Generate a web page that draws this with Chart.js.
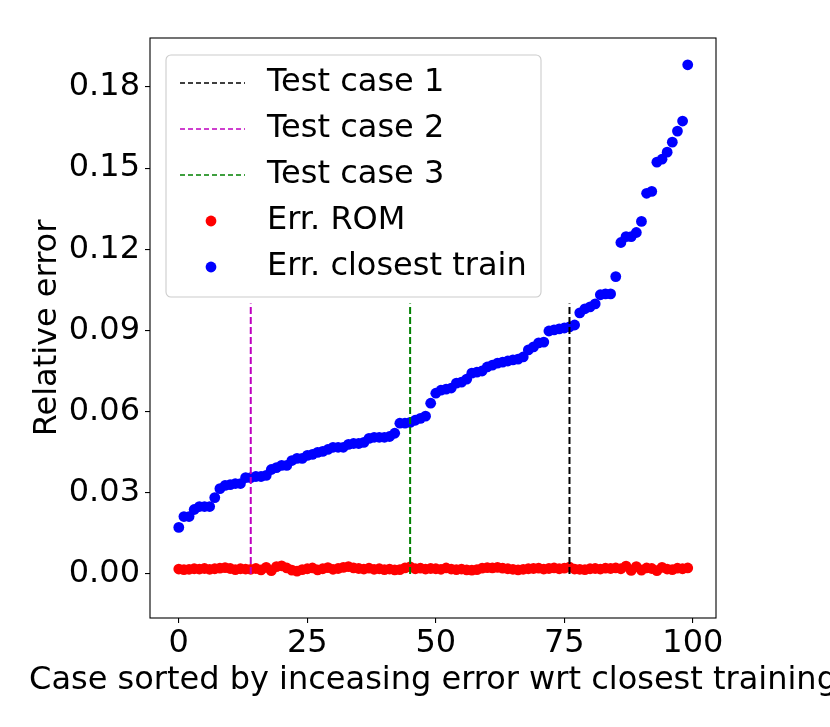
<!DOCTYPE html>
<html>
<head>
<meta charset="utf-8">
<script src="https://cdn.jsdelivr.net/npm/chart.js@4.4.1/dist/chart.umd.min.js"></script>
<style>
  html, body { margin: 0; padding: 0; background: #fff; }
  canvas { display: block; }
</style>
</head>
<body>
<canvas id="c" width="830" height="727"></canvas>
<script>
  "use strict";

  const FONT = "'DejaVu Sans', sans-serif";
  const FS = 32;

  const xTicks = [0, 25, 50, 75, 100];
  const yTicks = [0, 0.03, 0.06, 0.09, 0.12, 0.15, 0.18];

  // relative error of the closest training case, sorted (index = case)
  const errClosest = [
    0.0172, 0.0212, 0.0212, 0.0238, 0.0249, 0.0249, 0.0249, 0.0282, 0.0315, 0.0327,
    0.0330, 0.0334, 0.0334, 0.0356, 0.0356, 0.0360, 0.0360, 0.0364, 0.0386, 0.0393,
    0.0401, 0.0401, 0.0419, 0.0427, 0.0427, 0.0438, 0.0442, 0.0449, 0.0453, 0.0460,
    0.0468, 0.0468, 0.0468, 0.0479, 0.0482, 0.0482, 0.0486, 0.0501, 0.0505, 0.0505,
    0.0505, 0.0508, 0.0520, 0.0557, 0.0557, 0.0560, 0.0568, 0.0575, 0.0583, 0.0631,
    0.0668, 0.0679, 0.0683, 0.0687, 0.0705, 0.0709, 0.0720, 0.0742, 0.0746, 0.0750,
    0.0765, 0.0772, 0.0779, 0.0783, 0.0787, 0.0791, 0.0794, 0.0802, 0.0828, 0.0839,
    0.0854, 0.0857, 0.0898, 0.0902, 0.0906, 0.0909, 0.0913, 0.0920, 0.0965, 0.0980,
    0.0987, 0.0998, 0.1032, 0.1035, 0.1035, 0.1099, 0.1225, 0.1247, 0.1247, 0.1262,
    0.1303, 0.1407, 0.1414, 0.1522, 0.1533, 0.1559, 0.1596, 0.1637, 0.1674, 0.1882
  ];

  // relative error of the ROM for the same cases
  const errRom = [
    0.0018, 0.0016, 0.0017, 0.0019, 0.0018, 0.0020, 0.0017, 0.0019, 0.0021, 0.0023,
    0.0020, 0.0016, 0.0019, 0.0018, 0.0017, 0.0020, 0.0015, 0.0024, 0.0012, 0.0027,
    0.0030, 0.0022, 0.0014, 0.0010, 0.0016, 0.0019, 0.0022, 0.0015, 0.0019, 0.0023,
    0.0017, 0.0020, 0.0024, 0.0027, 0.0022, 0.0020, 0.0018, 0.0021, 0.0017, 0.0019,
    0.0016, 0.0018, 0.0015, 0.0016, 0.0022, 0.0026, 0.0019, 0.0021, 0.0018, 0.0020,
    0.0019, 0.0017, 0.0022, 0.0018, 0.0016, 0.0018, 0.0015, 0.0014, 0.0016, 0.0021,
    0.0023, 0.0022, 0.0024, 0.0021, 0.0019, 0.0017, 0.0015, 0.0017, 0.0019, 0.0020,
    0.0021, 0.0018, 0.0020, 0.0022, 0.0019, 0.0021, 0.0025, 0.0018, 0.0017, 0.0016,
    0.0019, 0.0020, 0.0018, 0.0021, 0.0020, 0.0022, 0.0019, 0.0029, 0.0013, 0.0027,
    0.0014, 0.0022, 0.0020, 0.0012, 0.0024, 0.0018, 0.0016, 0.0021, 0.0019, 0.0022
  ];

  const testCaseX = [76, 14, 45];
  const testLineSpan = [0, 0.1];
  const testLabels = ["Test case 1", "Test case 2", "Test case 3"];
  const testColors = ["#000000", "#bf00bf", "#008000"];

  const xTitle = "Case sorted by inceasing error wrt closest training";
  const yTitle = "Relative error";

  const toPoints = (arr) => arr.map((v, i) => ({ x: i, y: v }));

  const datasets = testCaseX.map((xv, k) => ({
    type: "line",
    label: testLabels[k],
    data: testLineSpan.map((yv) => ({ x: xv, y: yv })),
    borderColor: testColors[k],
    borderWidth: 2,
    borderDash: [7, 3],
    pointRadius: 0,
    fill: false,
  }));
  datasets.push({
    type: "scatter",
    label: "Err. ROM",
    data: toPoints(errRom),
    backgroundColor: "#ff0000",
    borderWidth: 0,
    pointRadius: 5.4,
  });
  datasets.push({
    type: "scatter",
    label: "Err. closest train",
    data: toPoints(errClosest),
    backgroundColor: "#0000ff",
    borderWidth: 0,
    pointRadius: 5.4,
  });

  // matplotlib-like box around the axes
  const framePlugin = {
    id: "frame",
    afterDatasetsDraw(chart) {
      const { ctx, chartArea: a } = chart;
      ctx.save();
      ctx.strokeStyle = "#000";
      ctx.lineWidth = 1.1;
      ctx.strokeRect(a.left, a.top, a.right - a.left, a.bottom - a.top);
      ctx.restore();
    },
  };

  // x title drawn by hand: the scale title would squeeze it into the plot width
  const xTitlePlugin = {
    id: "xTitle",
    afterDraw(chart) {
      const { ctx, chartArea: a } = chart;
      ctx.save();
      ctx.font = FS + "px " + FONT;
      ctx.fillStyle = "#000";
      ctx.textAlign = "center";
      ctx.textBaseline = "middle";
      ctx.fillText(xTitle, (a.left + a.right) / 2, 681);
      ctx.restore();
    },
  };

  const legendPlugin = {
    id: "boxLegend",
    afterDraw(chart) {
      const { ctx, chartArea: a } = chart;
      const left = a.left + 16, top = a.top + 17;
      const w = 375, h = 242, r = 5;
      ctx.save();
      ctx.beginPath();
      ctx.roundRect(left, top, w, h, r);
      ctx.fillStyle = "rgba(255,255,255,0.8)";
      ctx.fill();
      ctx.strokeStyle = "#cccccc";
      ctx.lineWidth = 1.1;
      ctx.stroke();

      ctx.font = FS + "px " + FONT;
      ctx.textBaseline = "middle";
      ctx.textAlign = "left";
      chart.data.datasets.forEach((ds, i) => {
        const cy = top + 28 + i * 46;
        if (ds.type === "line") {
          ctx.beginPath();
          ctx.setLineDash([5, 3]);
          ctx.strokeStyle = ds.borderColor;
          ctx.lineWidth = 1.6;
          ctx.moveTo(left + 14, cy);
          ctx.lineTo(left + 79, cy);
          ctx.stroke();
          ctx.setLineDash([]);
        } else {
          ctx.beginPath();
          ctx.arc(left + 45, cy, ds.pointRadius, 0, Math.PI * 2);
          ctx.fillStyle = ds.backgroundColor;
          ctx.fill();
        }
        ctx.fillStyle = "#000";
        ctx.fillText(ds.label, left + 101, cy);
      });
      ctx.restore();
    },
  };

  new Chart(document.getElementById("c"), {
    data: { datasets },
    plugins: [framePlugin, xTitlePlugin, legendPlugin],
    options: {
      responsive: false,
      devicePixelRatio: 1,
      animation: false,
      events: [],
      layout: { padding: { left: 0, top: 38, right: 114, bottom: 0 } },
      plugins: { legend: { display: false }, tooltip: { enabled: false } },
      scales: {
        x: {
          type: "linear",
          min: -5.6,
          max: 104.5,
          afterBuildTicks: (s) => { s.ticks = xTicks.map((v) => ({ value: v })); },
          afterFit: (s) => { s.height = 109; },
          border: { display: false },
          grid: { drawOnChartArea: false, drawTicks: true, tickLength: 5, color: "#000", lineWidth: 1.1 },
          ticks: {
            color: "#000",
            font: { family: FONT, size: FS },
            padding: 1,
            maxRotation: 0,
            autoSkip: false,
          },
        },
        y: {
          type: "linear",
          min: -0.0163,
          max: 0.1981,
          afterBuildTicks: (s) => { s.ticks = yTicks.map((v) => ({ value: v })); },
          afterFit: (s) => { s.width = 150; },
          border: { display: false },
          grid: { drawOnChartArea: false, drawTicks: true, tickLength: 5, color: "#000", lineWidth: 1.1 },
          ticks: {
            color: "#000",
            font: { family: FONT, size: FS },
            padding: 5,
            autoSkip: false,
            callback: (v) => Number(v).toFixed(2),
          },
          title: {
            display: true,
            text: yTitle,
            color: "#000",
            font: { family: FONT, size: FS, lineHeight: 1 },
            padding: { top: 32, bottom: 0 },
          },
        },
      },
    },
  });
</script>
</body>
</html>
